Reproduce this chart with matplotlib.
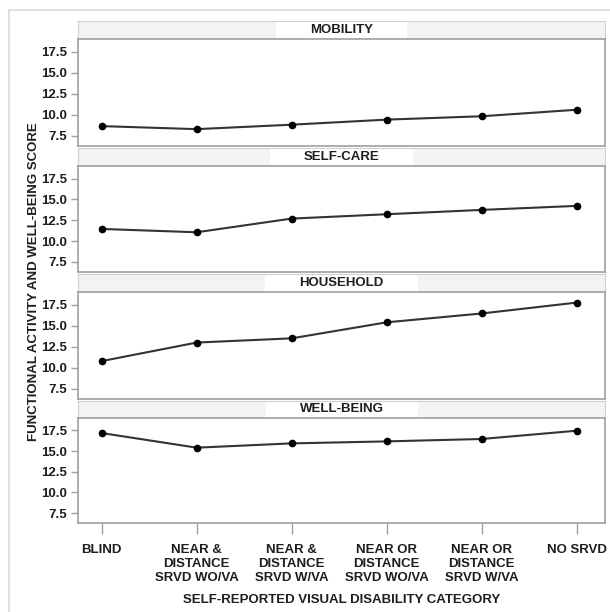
import matplotlib
matplotlib.use('Agg')
import matplotlib.pyplot as plt
from matplotlib.patches import Rectangle

# Categorie e punteggi
categories = ['BLIND', 'NEAR &\nDISTANCE\nSRVD WO/VA', 'NEAR &\nDISTANCE\nSRVD W/VA',
              'NEAR OR\nDISTANCE\nSRVD WO/VA', 'NEAR OR\nDISTANCE\nSRVD W/VA', 'NO SRVD']
panels = ['MOBILITY', 'SELF-CARE', 'HOUSEHOLD', 'WELL-BEING']
mobility = [8.66, 8.30, 8.83, 9.43, 9.83, 10.60]
self_care = [11.46, 11.06, 12.70, 13.22, 13.74, 14.22]
household = [10.80, 13.00, 13.50, 15.40, 16.45, 17.74]
well_being = [17.18, 15.41, 15.93, 16.17, 16.46, 17.46]
yticks = [7.5, 10.0, 12.5, 15.0, 17.5]

series = [mobility, self_care, household, well_being]

plt.rcParams['font.family'] = ['Liberation Sans', 'DejaVu Sans']
plt.rcParams['font.weight'] = 'bold'

W, H = 610, 612
fig = plt.figure(figsize=(W / 100, H / 100), dpi=100)
renderer = fig.canvas.get_renderer()

# Cornice esterna (lati destro e inferiore fuori dall'immagine)
fig.patches.append(Rectangle((9 / W, -0.05), 1.0, 1.05 - 10 / H, transform=fig.transFigure,
                             fill=False, edgecolor='#dcdcdc', linewidth=1.2))

# (top strip, top panel, bottom panel) in pixel
rows = [(21, 39, 146), (148, 166, 272), (274, 292, 399), (401, 418, 523)]
left, right = 78, 605
edge = '#a0a0a0'
txt = '#1e1e1e'

for i, (name, vals, (s_top, p_top, p_bot)) in enumerate(zip(panels, series, rows)):

    # Striscia del titolo
    sax = fig.add_axes([left / W, 1 - p_top / H, (right - left) / W, (p_top - s_top) / H])
    sax.set_facecolor('#f3f3f3')
    sax.set_xticks([])
    sax.set_yticks([])
    sax.set_xlim(0, 1)
    sax.set_ylim(0, 1)
    for sp in sax.spines.values():
        sp.set_color('#d0d0d0')
    t = sax.text(0.5, 0.5, name, ha='center', va='center', fontsize=9.5, color=txt,
                 fontweight='bold', zorder=3)
    tw = t.get_window_extent(renderer=renderer).width / (right - left)
    pad = 34 / (right - left)
    sax.add_patch(Rectangle((0.5 - tw / 2 - pad, 0.04), tw + 2 * pad, 0.92,
                            facecolor='white', edgecolor='none', zorder=2))

    # Pannello
    ax = fig.add_axes([left / W, 1 - p_bot / H, (right - left) / W, (p_bot - p_top) / H])
    x = range(len(vals))
    ax.plot(x, vals, color='#333333', linewidth=1.5, marker='o', markersize=4.5,
            markerfacecolor='black', markeredgecolor='black')
    ax.set_xlim(-0.25, 5.3)
    ax.set_ylim(6.3, 19.0)
    ax.set_yticks(yticks)
    ax.set_yticklabels([f'{t:.1f}' for t in yticks], fontsize=9.5, color=txt, fontweight='bold')
    ax.tick_params(axis='y', length=5, color=edge, width=1, pad=3)
    for sp in ax.spines.values():
        sp.set_color(edge)
        sp.set_linewidth(1.2)

    if i == len(panels) - 1:
        ax.set_xticks(list(x))
        ax.set_xticklabels(categories, fontsize=9.5, color=txt, fontweight='bold', linespacing=1.25)
        ax.tick_params(axis='x', length=8, color=edge, width=1, pad=7)
    else:
        ax.set_xticks([])

# Titoli assi
fig.text(34 / W, 1 - 282 / H, 'FUNCTIONAL ACTIVITY AND WELL-BEING SCORE', rotation=90,
         ha='center', va='center', fontsize=9.5, color=txt, fontweight='bold')
fig.text((left + right) / 2 / W, 1 - 600 / H, 'SELF-REPORTED VISUAL DISABILITY CATEGORY',
         ha='center', va='center', fontsize=9.5, color=txt, fontweight='bold')

plt.savefig('out.png', dpi=100)
